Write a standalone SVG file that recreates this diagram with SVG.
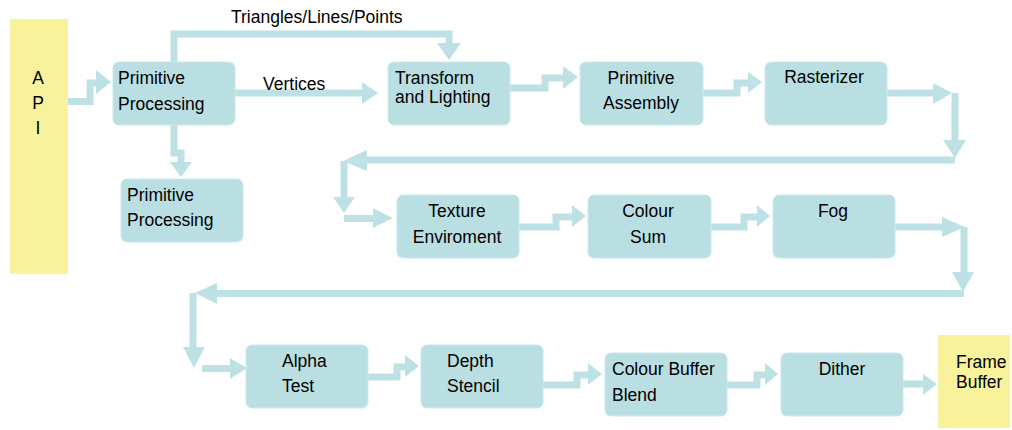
<svg xmlns="http://www.w3.org/2000/svg" width="1012" height="430" viewBox="0 0 1012 430">
<style>
.box{fill:#badfe3;stroke:#cbe8eb;stroke-width:1}
.yel{fill:#f7f29b}
.t{font-family:"Liberation Sans",Arial,sans-serif;font-size:17.5px;fill:#000}
.c{text-anchor:middle}
.ln{fill:none;stroke:#bde1e4;stroke-width:7;stroke-linejoin:miter;stroke-linecap:butt}
.hd{fill:#bde1e4}
</style>
<rect width="1012" height="430" fill="#fff"/>
<g id="connectors">
<polyline class="ln" points="68,101.5 90,101.5 90,83 97,83"/>
<polygon class="hd" points="96,70 111,82 96,94"/>
<polyline class="ln" points="174,62 174,34 449,34 449,44"/>
<polygon class="hd" points="437,43 461,43 449,60"/>
<polyline class="ln" points="235,93 363,93"/>
<polygon class="hd" points="362,82 378,93 362,104"/>
<polyline class="ln" points="174,125 174,153 181,153 181,163"/>
<polygon class="hd" points="170,162 192,162 181,177"/>
<polyline class="ln" points="510,88 545,88 545,78 564,78"/>
<polygon class="hd" points="563,66 578,77 563,89"/>
<polyline class="ln" points="703,93 737,93 737,83 749,83"/>
<polygon class="hd" points="748,72 762,82 748,93"/>
<polyline class="ln" points="887,93 934,93"/>
<polygon class="hd" points="933,83 952,93 933,104"/>
<polyline class="ln" points="955,93 955,141"/>
<polygon class="hd" points="943,140 966,140 955,158"/>
<polyline class="ln" points="955,160 366,160"/>
<polygon class="hd" points="367,150 343,161 367,171"/>
<polyline class="ln" points="344,161 344,198"/>
<polygon class="hd" points="333,197 355,197 344,213"/>
<polyline class="ln" points="344,218.5 374,218.5"/>
<polygon class="hd" points="373,208 393,218 373,228"/>
<polyline class="ln" points="519,227 556,227 556,217 573,217"/>
<polygon class="hd" points="572,205 586,216 572,227"/>
<polyline class="ln" points="711,227 744,227 744,217 758,217"/>
<polygon class="hd" points="757,205 770,216 757,227"/>
<polyline class="ln" points="895,227 943,227"/>
<polygon class="hd" points="942,217 965,227 942,237"/>
<polyline class="ln" points="964,227 964,273"/>
<polygon class="hd" points="952,272 974,272 963,292"/>
<polyline class="ln" points="964,293.5 216,293.5"/>
<polygon class="hd" points="217,283 195,293 217,304"/>
<polyline class="ln" points="193,293 193,348"/>
<polygon class="hd" points="183,347 205,347 194,368"/>
<polyline class="ln" points="202,368.5 231,368.5"/>
<polygon class="hd" points="230,358 247,368 230,379"/>
<polyline class="ln" points="368,377 397,377 397,367 406,367"/>
<polygon class="hd" points="405,355 419,366 405,377"/>
<polyline class="ln" points="543,385 577,385 577,375 589,375"/>
<polygon class="hd" points="588,363 602,374 588,385"/>
<polyline class="ln" points="727,385 757,385 757,375 766,375"/>
<polygon class="hd" points="765,363 778,374 765,385"/>
<polyline class="ln" points="903,384 924,384"/>
<polygon class="hd" points="923,374 937,384 923,395"/>
<text class="t" x="231" y="23">Triangles/Lines/Points</text>
<text class="t" x="263" y="90">Vertices</text>
</g>
<g id="api">
<rect class="yel" x="10" y="19" width="58" height="255"/>
<text class="t c" x="38" y="84">A</text>
<text class="t c" x="38" y="109">P</text>
<text class="t c" x="38" y="134">I</text>
</g>
<g id="primitive-processing-1">
<rect class="box" x="113" y="62" width="122" height="63" rx="6"/>
<text class="t" x="118" y="84">Primitive</text>
<text class="t" x="118" y="110">Processing</text>
</g>
<g id="primitive-processing-2">
<rect class="box" x="121" y="179" width="122" height="63" rx="6"/>
<text class="t" x="127" y="201">Primitive</text>
<text class="t" x="127" y="226">Processing</text>
</g>
<g id="transform-lighting">
<rect class="box" x="388" y="62" width="122" height="63" rx="6"/>
<text class="t" x="395" y="84">Transform</text>
<text class="t" x="395" y="103">and Lighting</text>
</g>
<g id="primitive-assembly">
<rect class="box" x="580" y="62" width="123" height="63" rx="6"/>
<text class="t c" x="641" y="84">Primitive</text>
<text class="t c" x="641" y="109">Assembly</text>
</g>
<g id="rasterizer">
<rect class="box" x="765" y="62" width="122" height="63" rx="6"/>
<text class="t c" x="824" y="83">Rasterizer</text>
</g>
<g id="texture-environment">
<rect class="box" x="397" y="195" width="122" height="63" rx="6"/>
<text class="t c" x="457" y="217">Texture</text>
<text class="t c" x="457" y="243">Enviroment</text>
</g>
<g id="colour-sum">
<rect class="box" x="588" y="195" width="123" height="63" rx="6"/>
<text class="t c" x="648" y="217">Colour</text>
<text class="t c" x="648" y="243">Sum</text>
</g>
<g id="fog">
<rect class="box" x="773" y="195" width="122" height="63" rx="6"/>
<text class="t c" x="833" y="217">Fog</text>
</g>
<g id="alpha-test">
<rect class="box" x="246" y="345" width="122" height="63" rx="6"/>
<text class="t" x="282" y="367">Alpha</text>
<text class="t" x="282" y="392">Test</text>
</g>
<g id="depth-stencil">
<rect class="box" x="421" y="345" width="122" height="63" rx="6"/>
<text class="t" x="447" y="367">Depth</text>
<text class="t" x="447" y="392">Stencil</text>
</g>
<g id="colour-buffer-blend">
<rect class="box" x="605" y="353" width="122" height="63" rx="6"/>
<text class="t" x="612" y="375">Colour Buffer</text>
<text class="t" x="612" y="401">Blend</text>
</g>
<g id="dither">
<rect class="box" x="781" y="353" width="122" height="63" rx="6"/>
<text class="t c" x="842" y="375">Dither</text>
</g>
<g id="frame-buffer">
<rect class="yel" x="938" y="335" width="72" height="93"/>
<text class="t" x="956" y="368">Frame</text>
<text class="t" x="956" y="388">Buffer</text>
</g>
</svg>
